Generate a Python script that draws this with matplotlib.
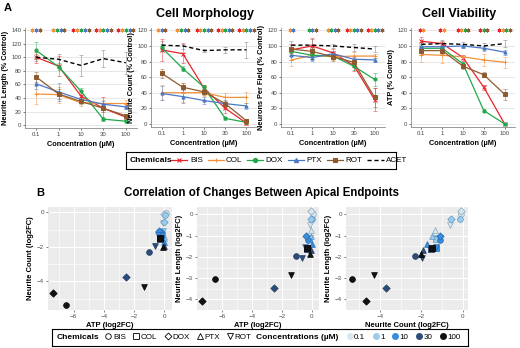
import numpy as np
import matplotlib
matplotlib.use('Agg')
import matplotlib.pyplot as plt
from matplotlib.lines import Line2D

plt.rcParams['font.family'] = ['Liberation Sans', 'DejaVu Sans']

W, H = 520, 348

# ---- data -------------------------------------------------------------
concs = ['0.1', '1', '10', '30', '100']
chems = ['BIS', 'COL', 'DOX', 'PTX', 'ROT', 'ACET']

# panel A, % of control (mean, error)
length_mean = {'BIS': [100, 87, 43, 25, 12], 'COL': [46, 45, 33, 32, 32],
               'DOX': [110, 86, 50, 9, 6], 'PTX': [61, 49, 38, 31, 27],
               'ROT': [71, 46, 35, 25, 14], 'ACET': [100, 97, 88, 98, 92]}
length_err = {'BIS': [8, 15, 8, 17, 3], 'COL': [15, 12, 4, 5, 5],
              'DOX': [13, 5, 5, 3, 2], 'PTX': [8, 13, 4, 4, 3],
              'ROT': [8, 8, 4, 5, 3], 'ACET': [5, 8, 15, 13, 16]}

count_mean = {'BIS': [95, 90, 46, 20, 1], 'COL': [40, 40, 40, 34, 34],
              'DOX': [98, 71, 47, 7, 2], 'PTX': [39, 35, 30, 26, 23],
              'ROT': [65, 47, 41, 26, 4], 'ACET': [101, 100, 94, 95, 95]}
count_err = {'BIS': [14, 12, 4, 6, 2], 'COL': [10, 12, 4, 6, 7],
             'DOX': [5, 3, 3, 2, 1], 'PTX': [9, 8, 4, 3, 4],
             'ROT': [6, 6, 4, 5, 2], 'ACET': [5, 4, 2, 4, 10]}

neuron_mean = {'BIS': [95, 100, 91, 75, 31], 'COL': [82, 88, 86, 87, 87],
               'DOX': [93, 88, 87, 74, 57], 'PTX': [88, 85, 90, 83, 82],
               'ROT': [96, 93, 86, 79, 34], 'ACET': [101, 101, 100, 98, 96]}
neuron_err = {'BIS': [8, 10, 5, 7, 15], 'COL': [8, 5, 4, 5, 3],
              'DOX': [5, 5, 4, 5, 8], 'PTX': [6, 4, 4, 3, 3],
              'ROT': [5, 5, 5, 4, 12], 'ACET': [5, 8, 3, 4, 4]}

atp_mean = {'BIS': [106, 103, 85, 47, 0], 'COL': [89, 88, 86, 82, 79],
            'DOX': [97, 97, 77, 17, 0], 'PTX': [99, 99, 100, 97, 92],
            'ROT': [94, 94, 74, 63, 38], 'ACET': [102, 103, 102, 100, 103]}
atp_err = {'BIS': [6, 3, 4, 3, 1], 'COL': [10, 10, 3, 8, 7],
           'DOX': [4, 3, 3, 2, 1], 'PTX': [3, 3, 3, 3, 3],
           'ROT': [6, 4, 3, 3, 7], 'ACET': [3, 5, 3, 4, 4]}

ALL5 = ['BIS', 'COL', 'DOX', 'PTX', 'ROT']
length_sig = [['COL', 'PTX', 'ROT'], ['COL', 'DOX', 'PTX', 'ROT'], ALL5, ALL5, ALL5]
count_sig = [['COL', 'PTX', 'ROT'], ['COL', 'DOX', 'PTX', 'ROT'], ALL5, ALL5, ALL5]
neuron_sig = [['COL', 'PTX'], ['DOX', 'PTX', 'ROT'], ['COL', 'DOX', 'PTX', 'ROT'], ALL5, ALL5]
atp_sig = [['BIS', 'COL'], ['BIS', 'COL'], ['BIS', 'COL', 'DOX', 'ROT'],
           ['BIS', 'DOX', 'ROT'], ['BIS', 'COL', 'DOX', 'ROT']]

# panel B, log2 fold change (per chemical, concentrations 0.1 .. 100)
atp_fc = {'BIS': [0.08, 0.04, -0.23, -1.05, -6.5], 'COL': [-0.17, -0.18, -0.22, -0.29, -0.3],
          'DOX': [-0.04, -0.04, -0.38, -2.53, -7.38], 'PTX': [-0.01, -0.01, 0.0, -0.04, -0.1],
          'ROT': [-0.09, -0.09, -0.43, -0.64, -1.38]}
count_fc = {'BIS': [-0.07, -0.15, -1.12, -2.32, -5.37], 'COL': [-1.32, -1.32, -1.32, -1.56, -1.5],
            'DOX': [-0.1, -0.55, -1.09, -3.73, -4.67], 'PTX': [-1.36, -1.51, -1.74, -1.94, -2.02],
            'ROT': [-0.62, -1.09, -1.29, -1.98, -4.3]}
length_fc = {'BIS': [0.0, -0.2, -1.22, -1.95, -3.03], 'COL': [-1.12, -1.15, -1.6, -1.64, -1.6],
             'DOX': [0.14, -0.22, -1.0, -3.45, -4.06], 'PTX': [-0.71, -1.03, -1.4, -1.69, -1.85],
             'ROT': [-0.49, -1.12, -1.51, -2.05, -2.84]}

# ---- styles -------------------------------------------------------------
colors = {'BIS': '#E8242B', 'COL': '#F2913D', 'DOX': '#21A84A',
          'PTX': '#4A78C6', 'ROT': '#8E5B2E', 'ACET': 'black'}
markers = {'BIS': 'x', 'COL': '+', 'DOX': 'o', 'PTX': '^', 'ROT': 's'}
shapes = {'BIS': 'o', 'COL': 's', 'DOX': 'D', 'PTX': '^', 'ROT': 'v'}
conc_fill = ['#D8E6EF', '#9DCBEA', '#3B8CDB', '#2C4C7C', '#111111']
conc_edge = ['#8DA6B8', '#5E98C4', '#2A6BB0', '#1F3960', '#000000']


def box(x0, y0, x1, y1):
    return [x0 / W, 1 - y1 / H, (x1 - x0) / W, (y1 - y0) / H]


fig = plt.figure(figsize=(W / 100, H / 100), dpi=100)


def line_panel(rect, means, errs, sig, ylabel, ymax):
    ax = fig.add_axes(box(*rect))
    x = np.arange(len(concs))
    for c in chems:
        col = '#777777' if c == 'ACET' else colors[c]
        ax.errorbar(x, means[c], yerr=errs[c], fmt='none', ecolor=col,
                    elinewidth=0.6, capsize=1.2, capthick=0.6, alpha=0.55, zorder=2)
    for c in chems:
        if c == 'ACET':
            ax.plot(x, means[c], color='black', ls=(0, (3, 2)), lw=1.0, zorder=4)
        else:
            ax.plot(x, means[c], color=colors[c], lw=0.9, marker=markers[c],
                    ms=2.3, mew=0.7, zorder=3)
    # significance stars
    for i, lst in enumerate(sig):
        n = len(lst)
        for k, c in enumerate(lst):
            ax.plot(i + (k - (n - 1) / 2) * 0.17, ymax, marker=(6, 2, 0),
                    ms=2.8, mew=0.6, color=colors[c], zorder=5)
    ax.set_xlim(-0.5, 4.5)
    ax.set_ylim(-4, ymax + 3)
    ax.set_yticks(np.arange(0, ymax + 1, 20))
    ax.set_xticks(x)
    ax.set_xticklabels(concs)
    ax.grid(axis='y', color='#E3E3E3', lw=0.6)
    ax.set_axisbelow(True)
    for s in ['top', 'right']:
        ax.spines[s].set_visible(False)
    for s in ['left', 'bottom']:
        ax.spines[s].set_color('#8A8A8A')
        ax.spines[s].set_linewidth(0.6)
    ax.tick_params(labelsize=4.3, colors='#444444', length=1.5, width=0.5, pad=1.2)
    ax.set_ylabel(ylabel, fontsize=5.3, fontweight='bold', labelpad=1.5)
    ax.set_xlabel('Concentration (µM)', fontsize=5.3, fontweight='bold', labelpad=3)
    return ax


line_panel((25, 28, 137, 128), length_mean, length_err, length_sig, 'Neurite Length (% Control)', 140)
line_panel((151, 28, 257, 127), count_mean, count_err, count_sig, 'Neurite Count (% Control)', 120)
line_panel((281, 28, 385, 127), neuron_mean, neuron_err, neuron_sig, 'Neurons Per Field (% Control)', 120)
line_panel((411, 28, 515, 127), atp_mean, atp_err, atp_sig, 'ATP (% Control)', 120)

fig.text(4 / W, 1 - 8 / H, 'A', fontsize=8, fontweight='bold', va='center')
fig.text(205 / W, 1 - 14 / H, 'Cell Morphology', fontsize=9, fontweight='bold', ha='center', va='center')
fig.text(459 / W, 1 - 14 / H, 'Cell Viability', fontsize=9, fontweight='bold', ha='center', va='center')

# legend A
lax = fig.add_axes(box(126, 152, 396, 169))
lax.set_xticks([])
lax.set_yticks([])
for s in lax.spines.values():
    s.set_linewidth(0.8)
lax.text(0.012, 0.5, 'Chemicals', fontsize=6, fontweight='bold', va='center', transform=lax.transAxes)
handles = []
for c in chems:
    if c == 'ACET':
        handles.append(Line2D([], [], color='black', ls=(0, (3, 2)), lw=1.0, label=c))
    else:
        handles.append(Line2D([], [], color=colors[c], lw=0.9, marker=markers[c],
                              ms=3, mew=0.8, label=c))
lax.legend(handles=handles, loc='center left', bbox_to_anchor=(0.168, 0.5), ncol=6,
           frameon=False, fontsize=5.8, handlelength=2.0, handletextpad=0.3,
           columnspacing=0.6, borderpad=0, borderaxespad=0)

# ---- panel B ------------------------------------------------------------
fig.text(36 / W, 1 - 193 / H, 'B', fontsize=8, fontweight='bold', va='center')
fig.text(261 / W, 1 - 193 / H, 'Correlation of Changes Between Apical Endpoints',
         fontsize=8.3, fontweight='bold', ha='center', va='center')


def scatter_panel(rect, xd, yd, xlim, ylim, xticks, yticks, xlabel, ylabel):
    ax = fig.add_axes(box(*rect))
    ax.set_facecolor('#EBEBEB')
    for s in ax.spines.values():
        s.set_visible(False)
    for j in range(len(concs)):
        for c in ALL5:
            ax.scatter(xd[c][j], yd[c][j], marker=shapes[c],
                       s=14 if shapes[c] == 'D' else 17,
                       facecolor=conc_fill[j], edgecolor=conc_edge[j], lw=0.5, zorder=3 + j)
    ax.set_xlim(*xlim)
    ax.set_ylim(*ylim)
    ax.set_xticks(xticks)
    ax.set_yticks(yticks)
    step_x = xticks[1] - xticks[0]
    step_y = yticks[1] - yticks[0]
    ax.set_xticks(np.arange(xticks[0] - step_x / 2, xlim[1], step_x), minor=True)
    ax.set_yticks(np.arange(yticks[0] - step_y / 2, ylim[1], step_y), minor=True)
    ax.grid(which='major', color='white', lw=0.8)
    ax.grid(which='minor', color='white', lw=0.4)
    ax.set_axisbelow(True)
    ax.tick_params(which='major', labelsize=4.5, colors='#4D4D4D', length=1.5, width=0.5, pad=1.5)
    ax.tick_params(which='minor', length=0)
    ax.set_xlabel(xlabel, fontsize=5.5, fontweight='bold', labelpad=2)
    ax.set_ylabel(ylabel, fontsize=5.5, fontweight='bold', labelpad=2)
    return ax


scatter_panel((48, 207, 172, 310), atp_fc, count_fc, (-7.7, 0.5), (-5.65, 0.3),
              [-6, -4, -2, 0], [-4, -2, 0], 'ATP (log2FC)', 'Neurite Count (log2FC)')
scatter_panel((197, 207, 319, 310), atp_fc, length_fc, (-7.7, 0.5), (-4.28, 0.35),
              [-6, -4, -2, 0], [-4, -3, -2, -1, 0], 'ATP (log2FC)', 'Neurite Length (log2FC)')
scatter_panel((346, 207, 468, 310), count_fc, length_fc, (-5.65, 0.25), (-4.28, 0.35),
              [-4, -2, 0], [-4, -3, -2, -1, 0], 'Neurite Count (log2FC)', 'Neurite Length (log2FC)')

# legend B
bax = fig.add_axes(box(52, 329, 468, 346))
bax.set_xticks([])
bax.set_yticks([])
for s in bax.spines.values():
    s.set_linewidth(0.8)
bax.text(0.012, 0.5, 'Chemicals', fontsize=6, fontweight='bold', va='center', transform=bax.transAxes)
bax.text(0.49, 0.5, 'Concentrations (µM)', fontsize=6, fontweight='bold', va='center', transform=bax.transAxes)
shape_handles = [Line2D([], [], ls='none', marker=shapes[c], ms=4 if shapes[c] != 'D' else 3.5,
                        mfc='none', mec='black', mew=0.6, label=c) for c in ALL5]
conc_handles = [Line2D([], [], ls='none', marker='o', ms=4, mfc=conc_fill[j], mec=conc_fill[j],
                       label=concs[j]) for j in range(len(concs))]
leg1 = bax.legend(handles=shape_handles, loc='center left', bbox_to_anchor=(0.128, 0.5), ncol=5,
                  frameon=False, fontsize=5.8, handlelength=0.8, handletextpad=0.15,
                  columnspacing=0.9, borderpad=0, borderaxespad=0)
bax.add_artist(leg1)
bax.legend(handles=conc_handles, loc='center left', bbox_to_anchor=(0.708, 0.5), ncol=5,
           frameon=False, fontsize=5.8, handlelength=0.8, handletextpad=0.15,
           columnspacing=0.9, borderpad=0, borderaxespad=0)

fig.savefig('out.png', dpi=100)
